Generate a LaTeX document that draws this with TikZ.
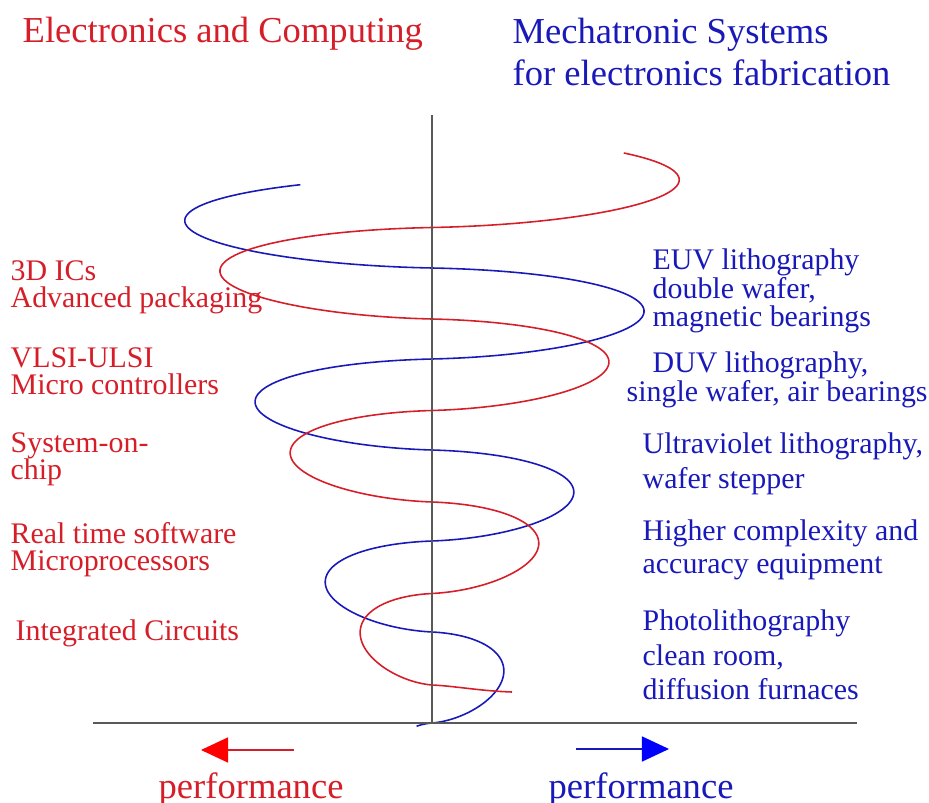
\documentclass[tikz,border=0pt]{standalone}
\usepackage{fontspec}
\setmainfont{Liberation Serif}
\usetikzlibrary{arrows.meta}
\definecolor{ecred}{RGB}{214,30,40}
\definecolor{msblue}{RGB}{25,25,185}
\setlength{\lineskiplimit}{-10pt}

\begin{document}
\begin{tikzpicture}[x=0.01cm, y=-0.01cm,
    declare function={turn(\s)=floor(\s)+0.85*(1-cos(180*(\s-floor(\s))))/2+0.15*(\s-floor(\s));
                      coilr(\s)=53.4+35.2*\s;},
    ttl/.style={font=\fontsize{10.4}{12}\selectfont, inner sep=0pt, align=left},
    ltxt/.style={font=\fontsize{8.5}{7.7}\selectfont, text=ecred, inner sep=0pt, align=left, anchor=north west},
    rtxt/.style={font=\fontsize{8.5}{9.8}\selectfont, text=msblue, inner sep=0pt, align=left, anchor=north west},
    coil/.style={line width=0.45pt, samples=400},
    axis/.style={line width=0.55pt, color=black!65}]
    \useasboundingbox (0,0) rectangle (929,803);

    \coordinate (top) at (432,115);
    \coordinate (origin) at (432,723);
    \coordinate (xleft) at (93,723);
    \coordinate (xright) at (857,723);

    % the two spirals
    \draw [coil, msblue] plot[domain=-0.1:5.833, variable=\t]
        ({432+coilr(\t)*sin(180*\t)}, {723-91*turn(\t)});
    \draw [coil, ecred] (512,692) .. controls (480,691) and (455,686) .. (432,685) -- plot[domain=0:5.73, variable=\t]
        ({432-coilr(\t)*sin(180*\t)}, {685-91.5*turn(\t)});

    \draw [axis] (top) -- (origin);
    \draw [axis] (xleft) -- (xright);

    \node [ttl, anchor=base west, text=ecred] (ectitle) at (22,43) {Electronics and Computing};
    \node [ttl, anchor=north west, text=msblue] (mstitle) at (512,17) {Mechatronic Systems\\for electronics fabrication};

    \node [ltxt] (l3d) at (10,260) {3D ICs\\Advanced packaging};
    \node [ltxt] (lvlsi) at (10,347) {VLSI-ULSI\\Micro controllers};
    \node [ltxt] (lsoc) at (10,432) {System-on-\\chip};
    \node [ltxt] (lrts) at (10,522) {Real time software\\Microprocessors};
    \node [ltxt, anchor=base west] (lic) at (15,640) {Integrated Circuits};

    \node [rtxt, font=\fontsize{8.5}{8.0}\selectfont] (reuv) at (652,248.5) {EUV lithography\\double wafer,\\magnetic bearings};
    \node [rtxt, font=\fontsize{8.5}{8.25}\selectfont] (rduv) at (626,351.5) {\hspace*{0.26cm}DUV lithography,\\single wafer, air bearings};
    \node [rtxt] (ruv) at (642,432.5) {Ultraviolet lithography,\\wafer stepper};
    \node [rtxt, font=\fontsize{8.5}{9.4}\selectfont] (rhc) at (642,519.5) {Higher complexity and\\accuracy equipment};
    \node [rtxt] (rph) at (642,609.5) {Photolithography\\clean room,\\diffusion furnaces};

    % performance arrows
    \coordinate (rtail) at (294,750);
    \coordinate (rtip) at (201,750);
    \coordinate (btail) at (576,749);
    \coordinate (btip) at (669,749);
    \draw [ecred, -{Triangle[length=0.27cm, width=0.25cm, color=red]}] (rtail) -- (rtip);
    \draw [msblue, -{Triangle[length=0.27cm, width=0.25cm, color=blue]}] (btail) -- (btip);

    \node [ttl, anchor=base west, text=ecred] (rperf) at (158,799) {performance};
    \node [ttl, anchor=base west, text=msblue] (bperf) at (548,799) {performance};
\end{tikzpicture}
\end{document}
